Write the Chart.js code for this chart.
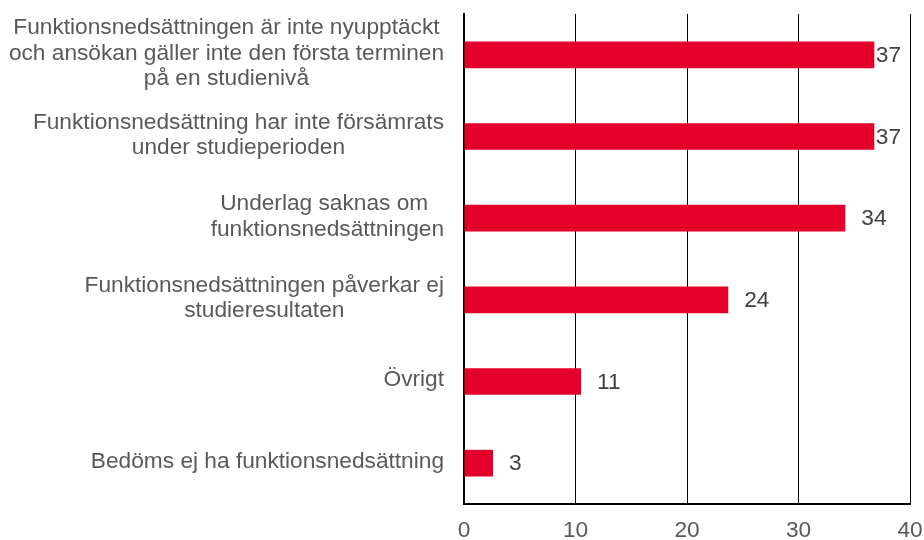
<!DOCTYPE html>
<html>
<head>
<meta charset="utf-8">
<script src="https://cdn.jsdelivr.net/npm/chart.js@4/dist/chart.umd.min.js"></script>
<style>
  html, body { margin: 0; padding: 0; background: #fff; }
  #wrap { width: 924px; height: 540px; }
</style>
</head>
<body>
<div id="wrap"><canvas id="reasons-chart" width="924" height="540"></canvas></div>
<script>
// categories, one array of lines per bar (top to bottom)
const categories = [
  ["Funktionsnedsättningen är inte nyupptäckt", "och ansökan gäller inte den första terminen", "på en studienivå"],
  ["Funktionsnedsättning har inte försämrats", "under studieperioden"],
  ["Underlag saknas om ", "funktionsnedsättningen"],
  ["Funktionsnedsättningen påverkar ej", "studieresultaten"],
  ["Övrigt"],
  ["Bedöms ej ha funktionsnedsättning"]
];
// bar lengths (labels show them rounded)
const counts = [36.8, 36.8, 34.2, 23.7, 10.5, 2.6];
const xTicks = [0, 10, 20, 30, 40];

const FONT = "'Liberation Sans', Arial, sans-serif";
const FSIZE = 22.7;
const barRed = '#E3002B';

// category labels: block right aligned to the axis, lines centred inside it
const categoryLabels = {
  id: 'categoryLabels',
  afterDraw(chart) {
    const ctx = chart.ctx;
    const yScale = chart.scales.y;
    const left = chart.chartArea.left;
    const lh = 25.5;
    ctx.save();
    ctx.font = FSIZE + 'px ' + FONT;
    ctx.fillStyle = '#595959';
    ctx.textAlign = 'center';
    ctx.textBaseline = 'middle';
    categories.forEach((lines, i) => {
      const y = yScale.getPixelForValue(i) - 1.5;
      const w = Math.max(...lines.map(l => ctx.measureText(l).width));
      const cx = left - 20 - w / 2;
      const y0 = y - (lines.length - 1) * lh / 2;
      lines.forEach((l, j) => ctx.fillText(l, cx, y0 + j * lh));
    });
    ctx.restore();
  }
};

// value labels at the end of each bar
const valueLabels = {
  id: 'valueLabels',
  afterDatasetsDraw(chart) {
    const ctx = chart.ctx;
    const meta = chart.getDatasetMeta(0);
    const right = chart.chartArea.right;
    ctx.save();
    ctx.font = FSIZE + 'px ' + FONT;
    ctx.fillStyle = '#404040';
    ctx.textAlign = 'left';
    ctx.textBaseline = 'middle';
    meta.data.forEach((bar, i) => {
      const txt = String(Math.round(counts[i]));
      const w = ctx.measureText(txt).width;
      const x = Math.min(bar.x + 16, right - w - 9);
      ctx.fillText(txt, x, bar.y + 1);
    });
    ctx.restore();
  }
};

new Chart(document.getElementById('reasons-chart'), {
  type: 'bar',
  data: {
    labels: categories.map(c => c.join(' ')),
    datasets: [{
      data: counts,
      backgroundColor: barRed,
      borderWidth: 0,
      barPercentage: 1,
      categoryPercentage: 0.327
    }]
  },
  options: {
    indexAxis: 'y',
    responsive: false,
    animation: false,
    layout: { padding: { top: 14, right: 0, left: 0, bottom: 0 } },
    scales: {
      x: {
        min: 0,
        max: 40,
        afterBuildTicks: s => { s.ticks = xTicks.map(v => ({ value: v })); },
        grid: { color: '#000', lineWidth: 1, drawTicks: false },
        border: { display: true, color: '#000', width: 2 },
        ticks: {
          color: '#595959',
          font: { family: FONT, size: FSIZE },
          padding: 13
        },
        afterFit: s => {
          s.height = 36;
          s.paddingLeft = 0;
          s.paddingRight = 14;
        }
      },
      y: {
        grid: { display: false },
        border: { display: true, color: '#000', width: 2 },
        ticks: { display: false },
        afterFit: s => { s.width = 464; }
      }
    },
    plugins: {
      legend: { display: false },
      tooltip: { enabled: false }
    }
  },
  plugins: [categoryLabels, valueLabels]
});
</script>
</body>
</html>
